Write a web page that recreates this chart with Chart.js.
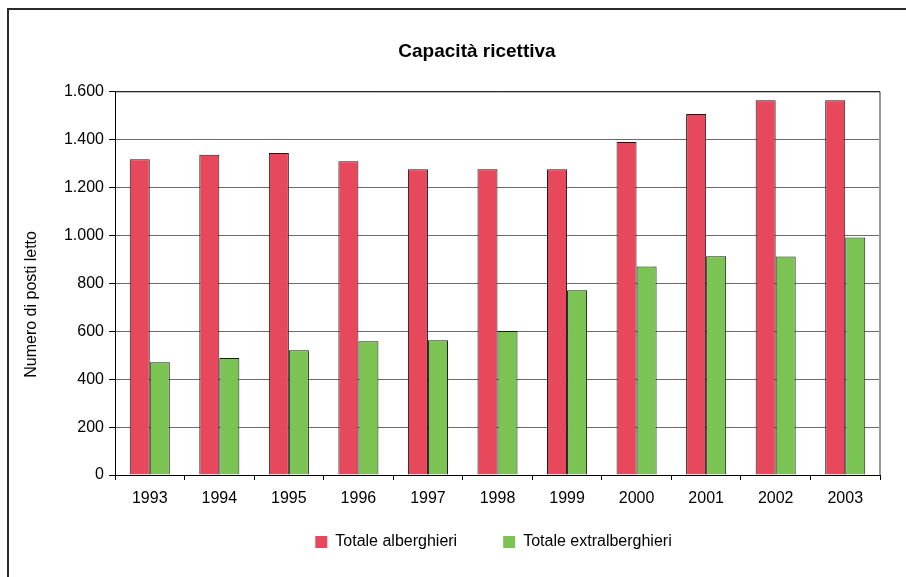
<!DOCTYPE html>
<html>
<head>
<meta charset="utf-8">
<script src="https://cdn.jsdelivr.net/npm/chart.js@4.4.0/dist/chart.umd.min.js"></script>
<style>
    body { margin: 0; background: #fff; }
    #wrap { position: relative; width: 906px; height: 577px; overflow: hidden; }
    #frame { position: absolute; left: 7px; top: 8px; width: 960px; height: 640px;
             border-left: 2px solid #2a2a2a; border-top: 2px solid #2a2a2a; pointer-events: none; }
</style>
</head>
<body>
<div id="wrap">
    <canvas id="capChart" width="906" height="577"></canvas>
    <div id="frame"></div>
</div>
<script>
const years = ['1993', '1994', '1995', '1996', '1997', '1998', '1999', '2000', '2001', '2002', '2003'];
const alberghieri = [1318, 1337, 1344, 1310, 1277, 1277, 1277, 1390, 1507, 1565, 1565];
const extralberghieri = [471, 488, 521, 558, 563, 601, 771, 871, 913, 912, 992];
const seriesNames = ['Totale alberghieri', 'Totale extralberghieri'];

const PLOT_BOTTOM = 475;

Chart.defaults.font.family = '"Liberation Sans", Arial, sans-serif';
Chart.defaults.color = '#000';

function formatThousands(v) {
    return String(v).replace(/\B(?=(\d{3})+(?!\d))/g, '.');
}

// plot frame lines + moving title/legend/axis title where the original has them
const plotFrame = {
    id: 'plotFrame',
    afterLayout(chart) {
        const area = chart.chartArea;
        const lg = chart.legend;
        const dx = (area.left + area.right) / 2 - 4 - (lg.left + lg.right) / 2;
        lg.left += dx;
        lg.right += dx;
        const dy = 488 - lg.top;
        lg.top += dy;
        lg.bottom += dy;
        const tb = chart.titleBlock;
        const tdx = 477 - (tb.left + tb.right) / 2;
        tb.left += tdx;
        tb.right += tdx;

        const y = chart.scales.y;
        if (!y._titleShifted) {
            const orig = y.drawTitle.bind(y);
            y.drawTitle = function() {
                chart.ctx.save();
                chart.ctx.translate(0, 21);
                orig();
                chart.ctx.restore();
            };
            y._titleShifted = true;
        }
    },
    afterDraw(chart) {
        const { ctx, chartArea } = chart;
        ctx.save();
        ctx.strokeStyle = '#999';
        ctx.lineWidth = 2;
        ctx.beginPath();
        ctx.moveTo(chartArea.right, chartArea.top);
        ctx.lineTo(chartArea.right, chartArea.bottom);
        ctx.stroke();
        ctx.strokeStyle = '#111';
        ctx.lineWidth = 1;
        ctx.beginPath();
        ctx.moveTo(chartArea.left, chartArea.top);
        ctx.lineTo(chartArea.right, chartArea.top);
        ctx.stroke();
        ctx.restore();
    }
};

const ctx = document.getElementById('capChart').getContext('2d');
new Chart(ctx, {
    type: 'bar',
    data: {
        labels: years,
        datasets: [{
            label: seriesNames[0],
            data: alberghieri,
            backgroundColor: 'rgb(232, 72, 91)',
            borderColor: '#1a1a1a',
            borderWidth: 1,
            categoryPercentage: 0.576,
            barPercentage: 1.0
        }, {
            label: seriesNames[1],
            data: extralberghieri,
            backgroundColor: 'rgb(123, 195, 82)',
            borderColor: '#1a1a1a',
            borderWidth: 1,
            categoryPercentage: 0.576,
            barPercentage: 1.0
        }]
    },
    options: {
        responsive: false,
        animation: false,
        layout: { padding: { left: 0, right: 26, top: 0, bottom: 0 } },
        plugins: {
            title: {
                display: true,
                text: 'Capacità ricettiva',
                font: { size: 19, weight: 'bold' },
                color: '#000',
                padding: { top: 40, bottom: 29 }
            },
            legend: {
                position: 'bottom',
                labels: {
                    boxWidth: 12,
                    boxHeight: 12,
                    padding: 46,
                    font: { size: 16 },
                    color: '#000',
                    generateLabels(chart) {
                        return Chart.defaults.plugins.legend.labels.generateLabels(chart)
                            .map(item => Object.assign(item, { lineWidth: 0, strokeStyle: 'rgba(0,0,0,0)' }));
                    }
                }
            },
            tooltip: { enabled: false }
        },
        scales: {
            x: {
                afterFit(scale) {
                    scale.height = scale.chart.height - PLOT_BOTTOM - scale.chart.legend.height;
                },
                grid: {
                    drawOnChartArea: false,
                    drawTicks: true,
                    tickLength: 5,
                    tickColor: '#000',
                    offset: true
                },
                border: { display: true, color: '#000', width: 1 },
                ticks: { font: { size: 16 }, color: '#000', padding: 9 }
            },
            y: {
                min: 0,
                max: 1600,
                afterFit(scale) { scale.width = 115; },
                ticks: {
                    stepSize: 200,
                    font: { size: 16 },
                    color: '#000',
                    padding: 5,
                    callback: v => formatThousands(v)
                },
                grid: {
                    color: '#6a6a6a',
                    lineWidth: 1,
                    tickLength: 6,
                    tickColor: '#000'
                },
                border: { display: true, color: '#000', width: 1 },
                title: {
                    display: true,
                    text: 'Numero di posti letto',
                    font: { size: 16 },
                    color: '#000',
                    padding: { top: 22, bottom: 0 }
                }
            }
        }
    },
    plugins: [plotFrame]
});
</script>
</body>
</html>
